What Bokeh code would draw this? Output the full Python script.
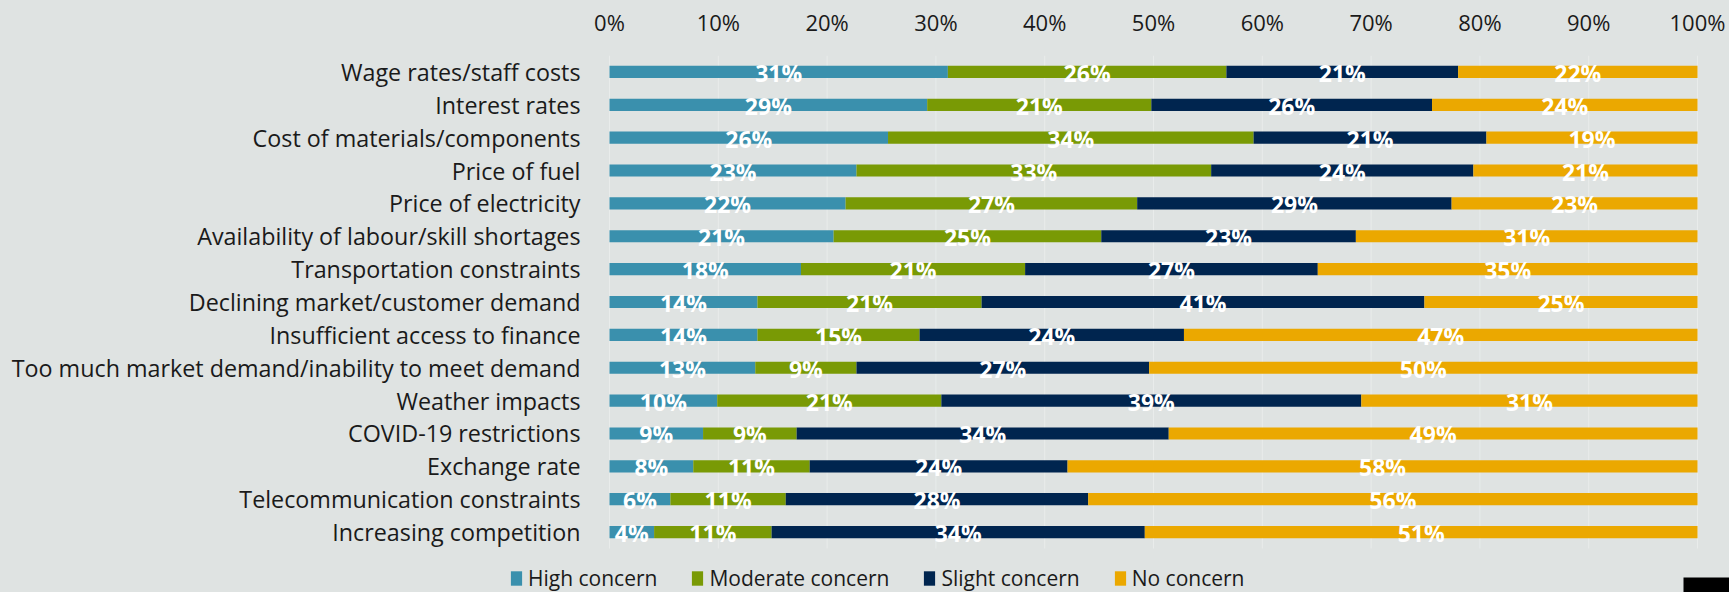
from bokeh.plotting import figure
from bokeh.models import (Range1d, ColumnDataSource, Legend, LegendItem,
                          FixedTicker, PrintfTickFormatter, BoxAnnotation)
from bokeh.core.properties import value
from bokeh.embed import file_html
from bokeh.resources import INLINE

categories = [
    "Wage rates/staff costs",
    "Interest rates",
    "Cost of materials/components",
    "Price of fuel",
    "Price of electricity",
    "Availability of labour/skill shortages",
    "Transportation constraints",
    "Declining market/customer demand",
    "Insufficient access to finance",
    "Too much market demand/inability to meet demand",
    "Weather impacts",
    "COVID-19 restrictions",
    "Exchange rate",
    "Telecommunication constraints",
    "Increasing competition",
]
high_concern = [31.1, 29.2, 25.6, 22.7, 21.7, 20.6, 17.6, 13.6, 13.6, 13.4, 9.9, 8.6, 7.7, 5.6, 4.1]
moderate_concern = [25.6, 20.6, 33.6, 32.6, 26.8, 24.6, 20.6, 20.6, 14.9, 9.3, 20.6, 8.6, 10.7, 10.6, 10.8]
slight_concern = [21.3, 25.8, 21.4, 24.1, 28.9, 23.4, 26.9, 40.7, 24.3, 26.9, 38.6, 34.2, 23.7, 27.8, 34.3]
no_concern = [22.0, 24.4, 19.4, 20.6, 22.6, 31.4, 34.9, 25.1, 47.2, 50.4, 30.9, 48.6, 57.9, 56.0, 50.8]

series_names = ["High concern", "Moderate concern", "Slight concern", "No concern"]
series_keys = ["high", "moderate", "slight", "none"]
series_colors = ["#3A90AD", "#799A05", "#00254F", "#EBA800"]
tick_values = [0, 10, 20, 30, 40, 50, 60, 70, 80, 90, 100]

BG = "#DFE3E2"
FONT = "Open Sans"
TXT = "#1A1A1A"

# ---- layout (pixels) ----
W, H = 1729, 592
TOP = 55                     # top of bar area
PLOT_L, PLOT_R = 609, 1697   # 0% and 100% positions
BAR_BOTTOM = 548             # bottom of bar area
n = len(categories)
px_x = (PLOT_R - PLOT_L) / 100.0
px_y = (BAR_BOTTOM - TOP) / n
x_start = -PLOT_L / px_x
x_end = 100 + (W - PLOT_R) / px_x
y_top = n - 0.5
y_bottom = -0.5 - (H - BAR_BOTTOM) / px_y

pos = [n - 1 - i for i in range(n)]
src = ColumnDataSource(dict(pos=pos, cat=categories, high=high_concern, moderate=moderate_concern,
                            slight=slight_concern, none=no_concern))

p = figure(width=W, height=H, x_range=Range1d(x_start, x_end), y_range=Range1d(y_bottom, y_top),
           x_axis_location="above", y_axis_location=None,
           output_backend="svg", toolbar_location=None,
           min_border_left=0, min_border_right=0, min_border_top=TOP, min_border_bottom=0)
p.background_fill_color = BG
p.border_fill_color = BG
p.outline_line_color = None
p.xgrid.grid_line_color = None
p.ygrid.grid_line_color = None

# vertical grid lines limited to the bar area
p.segment(x0=tick_values, x1=tick_values, y0=-0.5, y1=n - 0.5,
          line_color="#E9ECEB", line_width=1)

renderers = p.hbar_stack(series_keys, y="pos", height=0.37, color=series_colors,
                         line_color=None, source=src)

# category labels
p.text(x=0, y="pos", text="cat", source=src, x_offset=-29, text_align="right",
       text_baseline="middle", text_font=value(FONT), text_font_size="23.3px",
       text_color=TXT)

# value labels
lx, ly, lt = [], [], []
for i in range(n):
    left = 0.0
    for arr in (high_concern, moderate_concern, slight_concern, no_concern):
        v = arr[i]
        lx.append(left + v / 2.0)
        ly.append(pos[i])
        lt.append(f"{round(v)}%")
        left += v
lsrc = ColumnDataSource(dict(x=lx, y=ly, t=lt))
p.text(x="x", y="y", text="t", source=lsrc, text_color="white", text_font=value(FONT),
       text_font_style="bold", text_font_size="23px", text_align="center",
       text_baseline="middle", y_offset=1)

p.xaxis.ticker = FixedTicker(ticks=tick_values)
p.xaxis.formatter = PrintfTickFormatter(format="%d%%")
p.xaxis.axis_line_color = None
p.xaxis.major_tick_line_color = None
p.xaxis.minor_tick_line_color = None
p.xaxis.major_tick_out = 0
p.xaxis.major_tick_in = 0
p.xaxis.major_label_text_font = FONT
p.xaxis.major_label_text_color = TXT
p.xaxis.major_label_text_font_size = "22px"
p.xaxis.major_label_standoff = 19

items = [LegendItem(label=nm, renderers=[r]) for nm, r in zip(series_names, renderers)]
legend = Legend(items=items, orientation="horizontal", location=(509, 0),
                glyph_width=14, glyph_height=18, label_standoff=5, spacing=33,
                padding=0, margin=0, border_line_color=None, background_fill_alpha=0,
                label_text_font=FONT, label_text_font_size="21px", label_text_color=TXT,
                label_height=18)
p.add_layout(legend, "center")

# small black block in the bottom-right corner
p.add_layout(BoxAnnotation(left=100 + (1683 - PLOT_R) / px_x, top=y_bottom + 15 / px_y,
                           fill_color="black", fill_alpha=1, line_color=None))

html = file_html(p, INLINE)
html = html.replace("<head>", "<head><style>body{background:#DFE3E2;}</style>", 1)
open("out.html", "w").write(html)
